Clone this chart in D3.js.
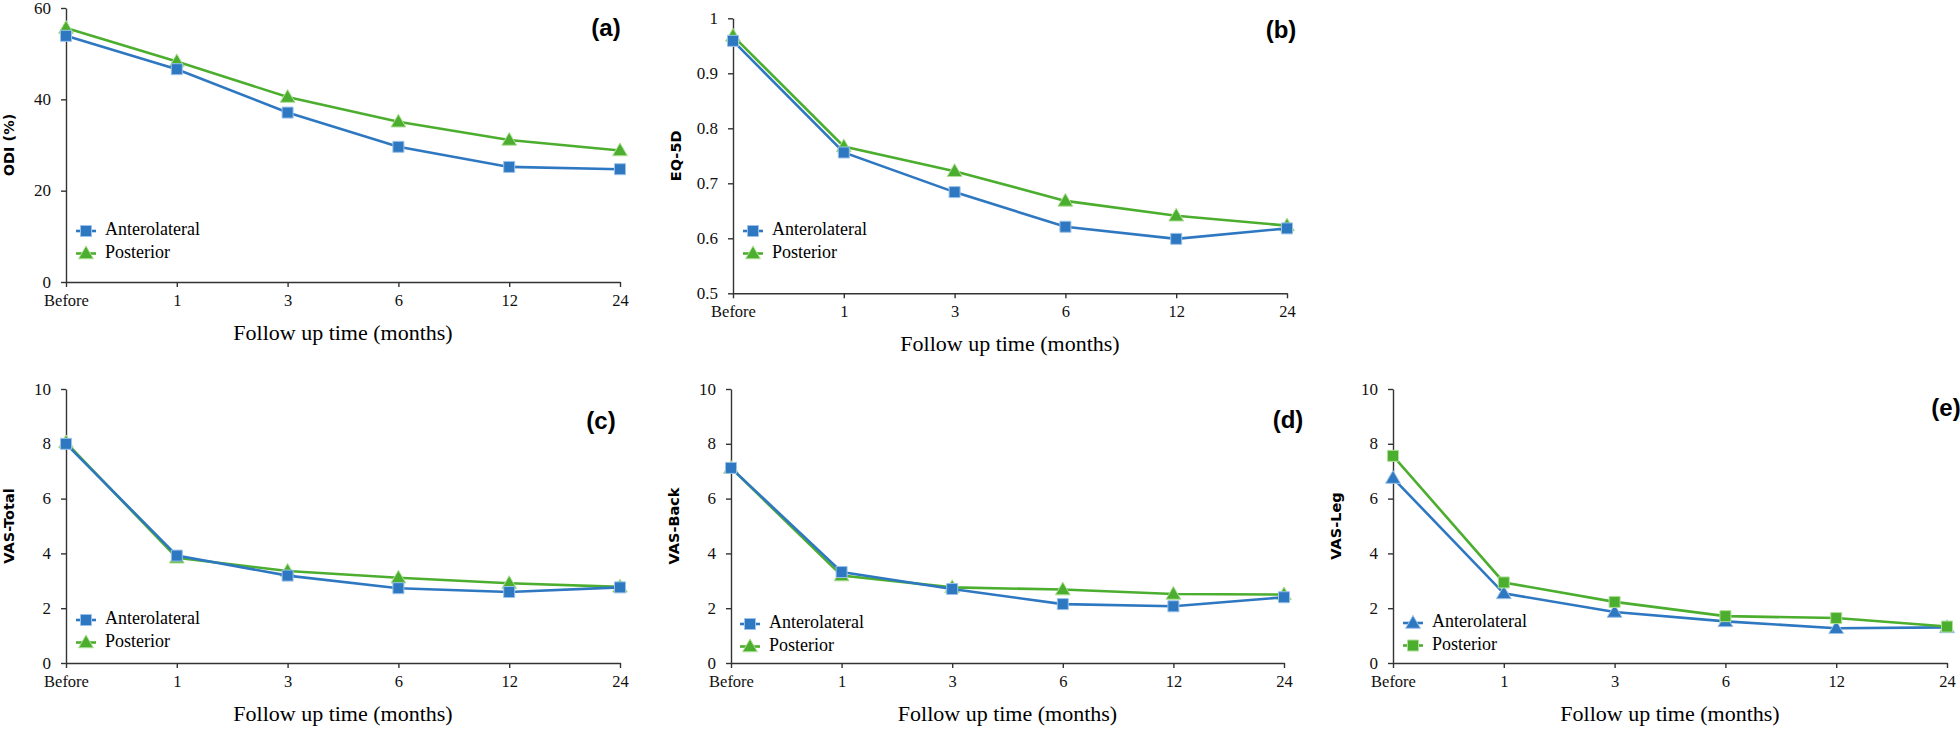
<!DOCTYPE html>
<html>
<head>
<meta charset="utf-8">
<script src="https://cdn.jsdelivr.net/npm/d3@7"></script>
<style>
  html, body { margin: 0; padding: 0; background: #fff; }
  svg { display: block; }
  .tick text { font-family: 'Liberation Serif', serif; fill: #111; }
  .axis path, .axis line { stroke: #333; stroke-width: 1.4px; }
</style>
</head>
<body>
<div id="chart"></div>
<script>
const W = 1960, H = 730;

// data
const months = ['Before', '1', '3', '6', '12', '24'];

const odiAntero = [53.9, 46.6, 37.1, 29.6, 25.2, 24.7];
const odiPost = [55.6, 48.3, 40.5, 35.1, 31.1, 28.8];

const eqAntero = [0.959, 0.756, 0.684, 0.621, 0.599, 0.618];
const eqPost = [0.968, 0.767, 0.722, 0.668, 0.641, 0.623];

const vasTotalAntero = [8.0, 3.92, 3.19, 2.73, 2.59, 2.76];
const vasTotalPost = [8.05, 3.84, 3.36, 3.11, 2.91, 2.78];

const vasBackAntero = [7.12, 3.32, 2.70, 2.15, 2.07, 2.40];
const vasBackPost = [7.12, 3.19, 2.76, 2.68, 2.52, 2.50];

const vasLegAntero = [6.75, 2.54, 1.86, 1.52, 1.27, 1.30];
const vasLegPost = [7.56, 2.94, 2.23, 1.71, 1.64, 1.33];

const odiTicks = [0, 20, 40, 60];
const eqTicks = [0.5, 0.6, 0.7, 0.8, 0.9, 1];
const vasTicks = [0, 2, 4, 6, 8, 10];

const BLUE = '#2e77c1', GREEN = '#4cae2e';
const BLUE_EDGE = '#9cc2ea', GREEN_EDGE = '#aee095';

const panels = [
  { tag: '(a)', ytitle: 'ODI (%)', x0: 66, x1: 620, yTop: 8, yBot: 282, dom: [0, 60], ticks: odiTicks,
    tagPos: [606, 30], legY: 231, legX: 86,
    series: [
      { name: 'Anterolateral', vals: odiAntero, color: BLUE, edge: BLUE_EDGE, sym: d3.symbolSquare, order: 1 },
      { name: 'Posterior', vals: odiPost, color: GREEN, edge: GREEN_EDGE, sym: d3.symbolTriangle, order: 0 }] },
  { tag: '(b)', ytitle: 'EQ-5D', x0: 733, x1: 1287, yTop: 18.3, yBot: 293.3, dom: [0.5, 1], ticks: eqTicks,
    tagPos: [1281, 32], legY: 231, legX: 753,
    series: [
      { name: 'Anterolateral', vals: eqAntero, color: BLUE, edge: BLUE_EDGE, sym: d3.symbolSquare, order: 1 },
      { name: 'Posterior', vals: eqPost, color: GREEN, edge: GREEN_EDGE, sym: d3.symbolTriangle, order: 0 }] },
  { tag: '(c)', ytitle: 'VAS-Total', x0: 66, x1: 620, yTop: 389, yBot: 663, dom: [0, 10], ticks: vasTicks,
    tagPos: [601, 423], legY: 620, legX: 86,
    series: [
      { name: 'Anterolateral', vals: vasTotalAntero, color: BLUE, edge: BLUE_EDGE, sym: d3.symbolSquare, order: 1 },
      { name: 'Posterior', vals: vasTotalPost, color: GREEN, edge: GREEN_EDGE, sym: d3.symbolTriangle, order: 0 }] },
  { tag: '(d)', ytitle: 'VAS-Back', x0: 731, x1: 1284, yTop: 389, yBot: 663, dom: [0, 10], ticks: vasTicks,
    tagPos: [1288, 422], legY: 624, legX: 750,
    series: [
      { name: 'Anterolateral', vals: vasBackAntero, color: BLUE, edge: BLUE_EDGE, sym: d3.symbolSquare, order: 1 },
      { name: 'Posterior', vals: vasBackPost, color: GREEN, edge: GREEN_EDGE, sym: d3.symbolTriangle, order: 0 }] },
  { tag: '(e)', ytitle: 'VAS-Leg', x0: 1393, x1: 1947, yTop: 389, yBot: 663, dom: [0, 10], ticks: vasTicks,
    tagPos: [1946, 410], legY: 623, legX: 1413,
    series: [
      { name: 'Anterolateral', vals: vasLegAntero, color: BLUE, edge: BLUE_EDGE, sym: d3.symbolTriangle, order: 0 },
      { name: 'Posterior', vals: vasLegPost, color: GREEN, edge: GREEN_EDGE, sym: d3.symbolSquare, order: 1 }] }
];

const svg = d3.select('#chart').append('svg')
  .attr('width', W).attr('height', H);

function marker(sym) {
  return d3.symbol().type(sym).size(sym === d3.symbolSquare ? 121 : 95)();
}

panels.forEach(p => {
  const g = svg.append('g');
  const x = d3.scalePoint().domain(months).range([p.x0, p.x1]);
  const y = d3.scaleLinear().domain(p.dom).range([p.yBot, p.yTop]);

  g.append('g').attr('class', 'axis')
    .attr('transform', `translate(0,${p.yBot})`)
    .call(d3.axisBottom(x).tickSize(5).tickSizeOuter(0).tickPadding(7))
    .call(s => s.selectAll('text').attr('font-size', 16.5));

  g.append('g').attr('class', 'axis')
    .attr('transform', `translate(${p.x0},0)`)
    .call(d3.axisLeft(y).tickValues(p.ticks).tickFormat(d3.format('~g')).tickSize(5).tickSizeOuter(0).tickPadding(10))
    .call(s => s.selectAll('text').attr('font-size', 17).attr('dy', '0.3em'));

  // x title
  g.append('text')
    .attr('x', (p.x0 + p.x1) / 2).attr('y', p.yBot + 53)
    .attr('text-anchor', 'middle').attr('dominant-baseline', 'middle')
    .attr('font-family', 'Liberation Serif, serif').attr('font-size', 22)
    .text('Follow up time (months)');

  // y title
  g.append('text')
    .attr('transform', `translate(${p.x0 - 56},${(p.yTop + p.yBot) / 2}) rotate(-90)`)
    .attr('text-anchor', 'middle').attr('dominant-baseline', 'middle')
    .attr('font-family', 'DejaVu Sans, sans-serif').attr('font-weight', 'bold').attr('font-size', 14.5)
    .text(p.ytitle);

  // panel tag
  g.append('text')
    .attr('x', p.tagPos[0]).attr('y', p.tagPos[1])
    .attr('text-anchor', 'middle').attr('dominant-baseline', 'middle')
    .attr('font-family', 'Liberation Sans, sans-serif').attr('font-weight', 'bold').attr('font-size', 24)
    .text(p.tag);

  const line = d3.line().x((d, i) => x(months[i])).y(d => y(d));

  const ordered = p.series.slice().sort((a, b) => a.order - b.order);
  ordered.forEach(s => {
    g.append('path').datum(s.vals)
      .attr('d', line).attr('fill', 'none')
      .attr('stroke', s.color).attr('stroke-width', 2.6);
    g.selectAll(null).data(s.vals).enter().append('path')
      .attr('d', marker(s.sym))
      .attr('transform', (d, i) => `translate(${x(months[i])},${y(d) + (s.sym === d3.symbolTriangle ? 1 : 0)})`)
      .attr('fill', s.color).attr('stroke', s.edge).attr('stroke-width', 1);
  });

  // legend
  p.series.forEach((s, i) => {
    const ly = p.legY + i * 22.5;
    g.append('line')
      .attr('x1', p.legX - 10).attr('x2', p.legX + 10)
      .attr('y1', ly).attr('y2', ly)
      .attr('stroke', s.color).attr('stroke-width', 2.6);
    g.append('path').attr('d', marker(s.sym))
      .attr('transform', `translate(${p.legX},${ly + (s.sym === d3.symbolTriangle ? 1 : 0)})`)
      .attr('fill', s.color).attr('stroke', s.edge).attr('stroke-width', 1);
    g.append('text')
      .attr('x', p.legX + 19).attr('y', ly)
      .attr('dominant-baseline', 'middle')
      .attr('font-family', 'Liberation Serif, serif').attr('font-size', 18)
      .text(s.name);
  });
});
</script>
</body>
</html>
